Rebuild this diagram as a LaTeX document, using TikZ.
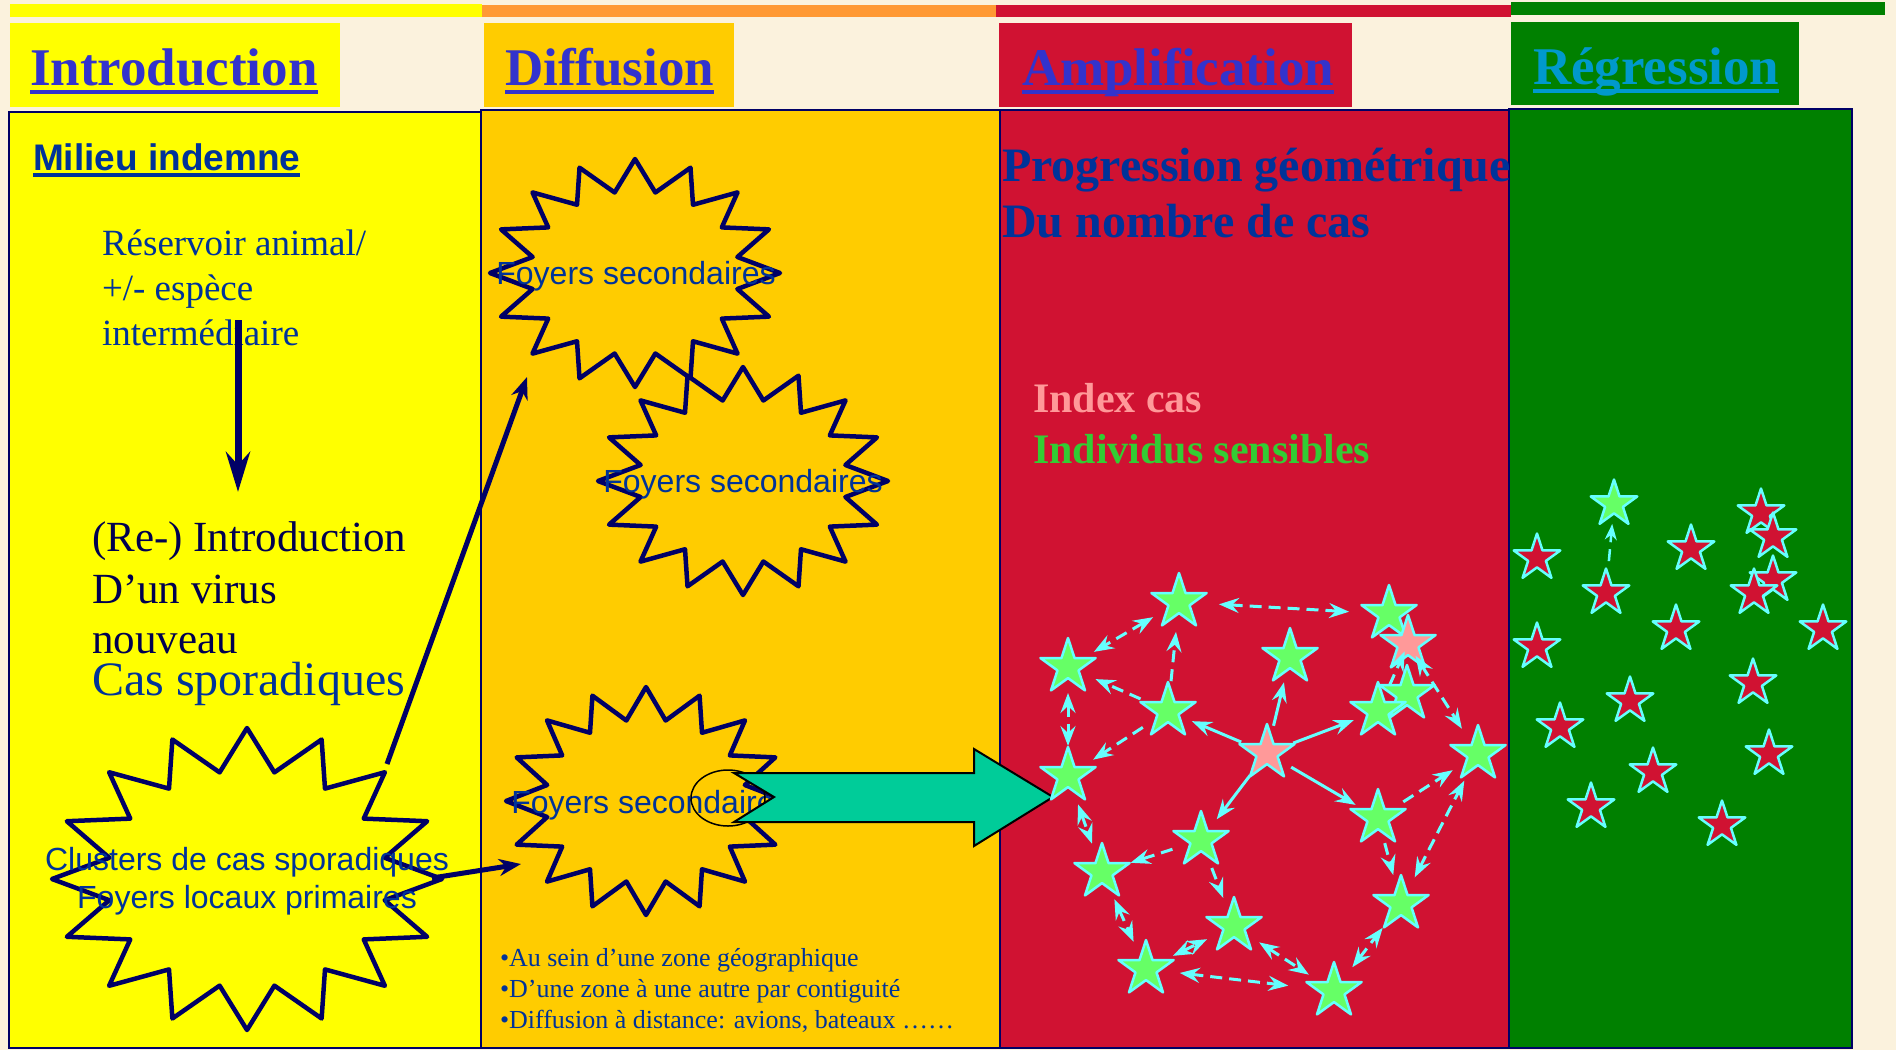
\documentclass[tikz,border=0pt]{standalone}
\usepackage{fontspec}
\setmainfont{Liberation Serif}
\newfontfamily\arialf{Liberation Sans}
\usetikzlibrary{shapes.geometric,arrows.meta}
\definecolor{cream}{HTML}{FBF2DD}
\definecolor{yel}{HTML}{FFFF00}
\definecolor{orp}{HTML}{FFCC00}
\definecolor{stripeor}{HTML}{FF9933}
\definecolor{redp}{HTML}{D01232}
\definecolor{greenp}{HTML}{008000}
\definecolor{navy}{HTML}{000066}
\definecolor{tblue}{HTML}{003399}
\definecolor{hdrblue}{HTML}{3333CC}
\definecolor{regblue}{HTML}{0099CC}
\definecolor{cyanc}{HTML}{66FFFF}
\definecolor{stargreen}{HTML}{66FF66}
\definecolor{pinkc}{HTML}{FF9999}
\definecolor{arrowgreen}{HTML}{00CC99}
\definecolor{sensgreen}{HTML}{33CC33}
\definecolor{darktxt}{HTML}{000050}
\tikzset{
  txt/.style={anchor=base west, inner sep=0pt, outer sep=0pt},
  hdr/.style={txt, font=\fontsize{53}{60}\selectfont\bfseries, text=hdrblue},
  panel/.style={draw=navy, line width=2pt},
  burstline/.style={draw=navy, line width=4.5pt, line join=round},
  bursttxt/.style={anchor=base, inner sep=0pt, font=\arialf\fontsize{32}{38}\selectfont, text=tblue},
  navyarrow/.style={draw=navy, line width=5pt, -{Stealth[length=22pt,width=17pt,inset=7pt]}},
  gstar/.style={star, star points=5, star point ratio=2.618, minimum size=58pt, inner sep=0pt, draw=cyanc, fill=stargreen, line width=2.5pt, line join=round},
  pstar/.style={gstar, fill=pinkc},
  rstar/.style={gstar, minimum size=49pt, fill=redp},
  gsstar/.style={gstar, minimum size=49pt},
  net/.style={draw=cyanc, line width=3pt, shorten <=30pt, shorten >=30pt},
  one/.style={net, -{Stealth[length=20pt,width=15pt,inset=7pt]}},
  two/.style={net, {Stealth[length=20pt,width=15pt,inset=7pt]}-{Stealth[length=20pt,width=15pt,inset=7pt]}},
  dsh/.style={dash pattern=on 12pt off 7pt},
  fromq/.style={one, shorten <=28pt, shorten >=26pt}
}
\newcommand\burstshape[5]{%
  \filldraw[burstline, fill=#5] plot[variable=\k, samples at={0,...,31}]
    ({#1+(0.86+0.14*cos(\k*180))*#3*sin(\k*11.25)},{#2-(0.86+0.14*cos(\k*180))*#4*cos(\k*11.25)}) -- cycle;}
\begin{document}
\begin{tikzpicture}[x=1pt,y=-1pt]
\useasboundingbox (0,0) rectangle (1896,1050);
\fill[cream] (0,0) rectangle (1896,1050);
% top stripes
\fill[yel] (10,4) rectangle (482,17);
\fill[stripeor] (482,5) rectangle (996,17);
\fill[redp] (996,5) rectangle (1511,17);
\fill[greenp] (1511,2) rectangle (1885,15);
% header boxes
\fill[yel] (10,23) rectangle (340,107);
\fill[orp] (484,23) rectangle (734,107);
\fill[redp] (999,23) rectangle (1352,107);
\fill[greenp] (1511,22) rectangle (1799,105);
\node[hdr] (hI) at (30,85) {Introduction};
\fill[hdrblue] ([yshift=-5pt]hI.base west) rectangle ([yshift=-9pt]hI.base east);
\node[hdr] (hD) at (505,85) {Diffusion};
\fill[hdrblue] ([yshift=-5pt]hD.base west) rectangle ([yshift=-9pt]hD.base east);
\node[hdr] (hA) at (1022,85) {Amplification};
\fill[hdrblue] ([yshift=-5pt]hA.base west) rectangle ([yshift=-9pt]hA.base east);
\node[hdr, text=regblue] (hR) at (1533,84) {Régression};
\fill[regblue] ([yshift=-5pt]hR.base west) rectangle ([yshift=-9pt]hR.base east);
% panels
\filldraw[panel, fill=yel] (9,112) rectangle (481,1048);
\filldraw[panel, fill=orp] (481,110) rectangle (1000,1048);
\filldraw[panel, fill=redp] (1000,110) rectangle (1509,1048);
\filldraw[panel, fill=greenp] (1509,109) rectangle (1852,1048);

% ---------- Introduction panel ----------
\node[txt, font=\arialf\bfseries\fontsize{37}{44}\selectfont, text=tblue] (mi) at (33,170) {Milieu indemne};
\fill[tblue] ([yshift=-3pt]mi.base west) rectangle ([yshift=-7pt]mi.base east);
\node[txt, font=\fontsize{37}{45}\selectfont, text=tblue] (rs1) at (102,255) {Réservoir animal/};
\node[txt, font=\fontsize{37}{45}\selectfont, text=tblue] (rs2) at (102,300) {+/- espèce};
\node[txt, font=\fontsize{37}{45}\selectfont, text=tblue] (rs3) at (102,345) {intermédiaire};
\coordinate (va0) at (238,320);
\coordinate (va1) at (238,492);
\draw[draw=navy, line width=7pt, -{Stealth[length=40pt,width=24pt,inset=13pt]}] (va0) -- (va1);
\node[txt, font=\fontsize{43}{52}\selectfont, text=darktxt] (ri1) at (92,551) {(Re-) Introduction};
\node[txt, font=\fontsize{43}{52}\selectfont, text=darktxt] (ri2) at (92,603) {D’un virus};
\node[txt, font=\fontsize{43}{52}\selectfont, text=darktxt] (ri3) at (92,653) {nouveau};
\node[txt, font=\fontsize{48}{56}\selectfont, text=tblue] (cs) at (92,695) {Cas sporadiques};
\burstshape{247}{879}{195}{151}{yel}
\node[bursttxt] (b0a) at (247,870) {Clusters de cas sporadiques};
\node[bursttxt] (b0b) at (247,908) {Foyers locaux primaires};

% ---------- Diffusion panel ----------
\burstshape{635}{273}{145}{114}{orp}
\node[bursttxt] (b1) at (636,284) {Foyers secondaires};
\burstshape{743}{481}{145}{114}{orp}
\node[bursttxt] (b2) at (743,492) {Foyers secondaires};
\burstshape{646}{801}{140}{114}{orp}
\node[bursttxt] (b3) at (651,813) {Foyers secondaires};
\coordinate (a1s) at (387,764);
\coordinate (a1e) at (527,377);
\draw[navyarrow] (a1s) -- (a1e);
\coordinate (a2s) at (432,878);
\coordinate (a2e) at (521,864);
\draw[navyarrow] (a2s) -- (a2e);
\node[txt, font=\fontsize{26}{31}\selectfont, text=tblue] (bl1) at (500,966) {•Au sein d’une zone géographique};
\node[txt, font=\fontsize{26}{31}\selectfont, text=tblue] (bl2) at (500,997) {•D’une zone à une autre par contiguité};
\node[txt, font=\fontsize{26}{31}\selectfont, text=tblue] (bl3) at (500,1028) {•Diffusion à distance: avions, bateaux ……};
% ellipse and big arrow
\node[ellipse, draw=black, line width=1.5pt, minimum width=74pt, minimum height=56pt, inner sep=0pt] (el) at (728,798) {};
\filldraw[fill=arrowgreen, draw=black, line width=2pt, line join=miter]
  (734,773) -- (974,773) -- (974,749) -- (1053,797) -- (974,846) -- (974,822) -- (734,822) -- (774,797) -- cycle;

% ---------- Amplification panel ----------
\node[txt, font=\fontsize{48}{56}\selectfont\bfseries, text=tblue] (pg1) at (1002,181) {Progression géométrique};
\node[txt, font=\fontsize{48}{56}\selectfont\bfseries, text=tblue] (pg2) at (1002,237) {Du nombre de cas};
\node[txt, font=\fontsize{42}{50}\selectfont\bfseries, text=pinkc] (ic) at (1033,412) {Index cas};
\node[txt, font=\fontsize{42}{50}\selectfont\bfseries, text=sensgreen] (is) at (1033,463) {Individus sensibles};

\node[gstar] (A) at (1179,602) {};
\node[gstar] (B) at (1068,667) {};
\node[gstar] (C) at (1168,711) {};
\node[gstar] (D) at (1068,776) {};
\node[gstar] (E) at (1290,657) {};
\node[gstar] (F) at (1389,614) {};
\node[pstar] (R) at (1408,644) {};
\node[gstar] (G) at (1407,694) {};
\node[gstar] (H) at (1378,711) {};
\node[gstar] (I) at (1478,754) {};
\node[gstar] (J) at (1378,818) {};
\node[gstar] (K) at (1201,840) {};
\node[gstar] (L) at (1102,872) {};
\node[gstar] (M) at (1234,926) {};
\node[gstar] (N) at (1146,969) {};
\node[gstar] (O) at (1334,991) {};
\node[gstar] (P) at (1401,904) {};
\node[pstar] (Q) at (1267,753) {};

\draw[two, dsh, shorten <=40pt, shorten >=40pt] (A.center) -- (F.center);
\draw[two, dsh] (A.center) -- (B.center);
\draw[two, dsh, shorten <=26pt, shorten >=30pt] (B.center) -- (D.center);
\draw[two, dsh] (D.center) -- (L.center);
\draw[two, dsh] (L.center) -- (N.center);
\draw[two, dsh] (N.center) -- (M.center);
\draw[two, dsh] (M.center) -- (O.center);
\draw[two, dsh, shorten <=34pt, shorten >=46pt] (N.center) -- (O.center);
\draw[two, dsh] (O.center) -- (P.center);
\draw[two, dsh] (P.center) -- (I.center);
\draw[two, dsh, shorten <=14pt] (R.center) -- (I.center);
\draw[one, dsh] (C.center) -- (A.center);
\draw[one, dsh] (C.center) -- (B.center);
\draw[one, dsh] (C.center) -- (D.center);
\draw[one, dsh] (K.center) -- (L.center);
\draw[one, dsh] (K.center) -- (M.center);
\draw[one, dsh] (J.center) -- (I.center);
\draw[one, dsh, shorten <=26pt, shorten >=30pt] (J.center) -- (P.center);
\draw[one, dsh, shorten <=28pt, shorten >=8pt] (H.center) -- (R.center);
\draw[fromq] (Q.center) -- (C.center);
\draw[fromq] (Q.center) -- (E.center);
\draw[fromq] (Q.center) -- (H.center);
\draw[fromq] (Q.center) -- (K.center);
\draw[fromq] (Q.center) -- (J.center);

% ---------- Regression panel ----------
\node[gsstar] (r1) at (1614,504) {};
\node[rstar] (r2) at (1537,558) {};
\node[rstar] (r3) at (1606,593) {};
\node[rstar] (r4) at (1691,549) {};
\node[rstar] (r5) at (1761,513) {};
\node[rstar] (r6) at (1773,537) {};
\node[rstar] (r7) at (1773,580) {};
\node[rstar] (r8) at (1754,593) {};
\node[rstar] (r9) at (1676,629) {};
\node[rstar] (r10) at (1537,647) {};
\node[rstar] (r11) at (1823,629) {};
\node[rstar] (r12) at (1753,683) {};
\node[rstar] (r13) at (1630,701) {};
\node[rstar] (r14) at (1560,727) {};
\node[rstar] (r15) at (1769,754) {};
\node[rstar] (r16) at (1653,772) {};
\node[rstar] (r17) at (1591,807) {};
\node[rstar] (r18) at (1722,825) {};
\draw[one, dsh, line width=2.5pt, shorten <=32pt, shorten >=20pt, -{Stealth[length=16pt,width=12pt,inset=5pt]}] (r3.center) -- (r1.center);
\end{tikzpicture}
\end{document}
